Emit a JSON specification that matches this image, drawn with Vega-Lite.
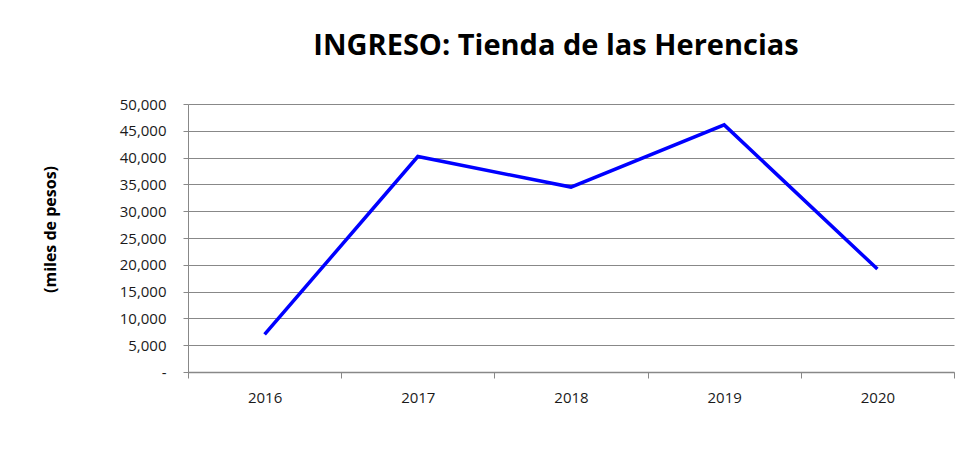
{
  "$schema": "https://vega.github.io/schema/vega-lite/v6.json",
  "autosize": "none",
  "width": 766,
  "height": 268,
  "padding": {"left": 188, "top": 104, "right": 12, "bottom": 86},
  "background": "white",
  "title": {
    "text": "INGRESO: Tienda de las Herencias",
    "font": "Open Sans",
    "fontSize": 29,
    "fontWeight": "bold",
    "color": "#000000",
    "anchor": "middle",
    "dx": -15,
    "offset": 36
  },
  "config": {
    "view": {"stroke": null},
    "axis": {
      "labelFont": "Open Sans",
      "labelFontSize": 15,
      "labelColor": "#1a1a1a",
      "domainColor": "#888888",
      "tickColor": "#888888",
      "gridColor": "#888888",
      "gridOpacity": 1
    }
  },
  "data": {
    "values": [
      {"year": "2016", "ingreso": 7000},
      {"year": "2017", "ingreso": 40200},
      {"year": "2018", "ingreso": 34500},
      {"year": "2019", "ingreso": 46100},
      {"year": "2020", "ingreso": 19200}
    ]
  },
  "mark": {"type": "line", "color": "#0000ff", "strokeWidth": 3.5},
  "encoding": {
    "x": {
      "field": "year",
      "type": "ordinal",
      "scale": {"type": "band", "paddingInner": 0, "paddingOuter": 0},
      "axis": {
        "title": null,
        "labelAngle": 0,
        "tickBand": "extent",
        "tickSize": 6,
        "labelPadding": 12,
        "domainWidth": 1.5
      }
    },
    "y": {
      "field": "ingreso",
      "type": "quantitative",
      "scale": {"domain": [0, 50000], "nice": false},
      "axis": {
        "values": [0, 5000, 10000, 15000, 20000, 25000, 30000, 35000, 40000, 45000, 50000],
        "labelExpr": "datum.value == 0 ? '-' : format(datum.value, ',')",
        "tickSize": 5,
        "labelPadding": 17,
        "grid": true,
        "title": "(miles de pesos)",
        "titleFont": "Open Sans",
        "titleFontSize": 16,
        "titleFontWeight": "bold",
        "titleColor": "#000000",
        "titleAngle": -90,
        "titleX": -138,
        "titleY": 125,
        "titleAlign": "center",
        "titleBaseline": "middle"
      }
    }
  }
}
